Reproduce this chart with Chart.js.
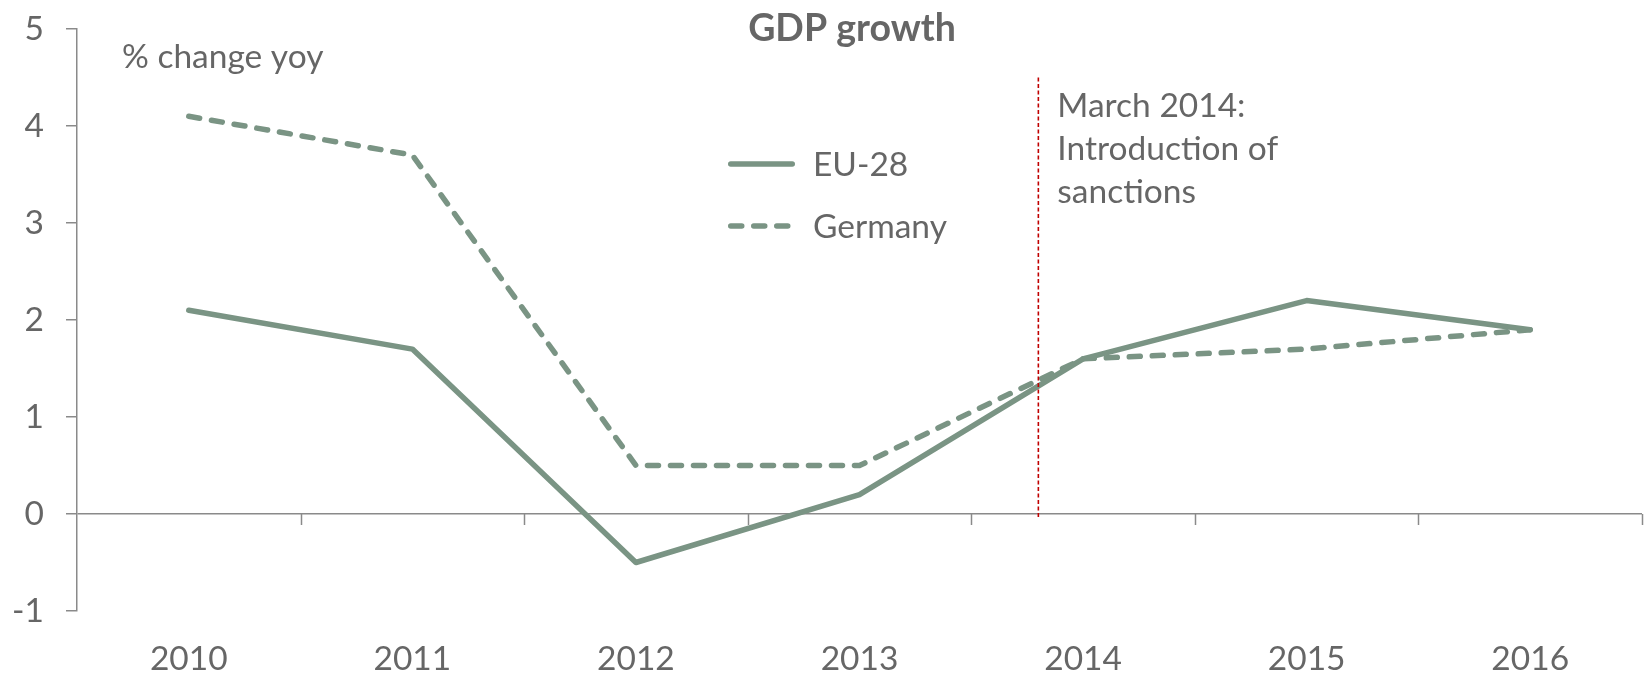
<!DOCTYPE html>
<html>
<head>
<meta charset="utf-8">
<title>GDP growth</title>
<script src="https://cdn.jsdelivr.net/npm/chart.js@4/dist/chart.umd.min.js"></script>
<style>
  html, body { margin: 0; padding: 0; background: #ffffff; }
  #wrap { width: 1648px; height: 673px; }
</style>
</head>
<body>
<div id="wrap"><canvas id="c" width="1648" height="673"></canvas></div>
<script>
// ---- data ----
const years = ['2010', '2011', '2012', '2013', '2014', '2015', '2016'];
const eu28 = [2.1, 1.7, -0.5, 0.2, 1.6, 2.2, 1.9];
const germany = [4.1, 3.7, 0.5, 0.5, 1.6, 1.7, 1.9];
const yMin = -1;
const yMax = 5;
const yStep = 1;
const seriesNames = ['EU-28', 'Germany'];
const chartTitle = 'GDP growth';
const unitNote = '% change yoy';
// March 2014 sits between the 2013 and 2014 categories
const sanctionsAt = 3.8;
const sanctionsSpan = [-0.04, 4.5];
const sanctionsText = ['March 2014:', 'Introduction of', 'sanctions'];

// ---- styles ----
const FONT = 'Lato, "Open Sans", sans-serif';
const FS = 33.5;
const TITLE_FS = 37.5;
const TEXT = '#666666';
const AXIS = '#8a8a8a';
const LINE = '#7a9484';
const RED = '#c00000';
const germanyDash = [11, 12];

const overlay = {
  id: 'overlay',
  beforeDatasetsDraw(chart) {
    const { ctx, scales: { x, y } } = chart;
    const y0 = y.getPixelForValue(0);
    ctx.save();
    ctx.strokeStyle = AXIS;
    ctx.lineWidth = 1.5;
    // category boundary ticks hanging below the zero line
    for (let i = 1; i <= years.length; i++) {
      const px = Math.round(x.getPixelForValue(i - 0.5)) + 0.5;
      ctx.beginPath();
      ctx.moveTo(px, y0);
      ctx.lineTo(px, y0 + 11);
      ctx.stroke();
    }
    ctx.restore();
  },
  afterDatasetsDraw(chart) {
    const { ctx, chartArea, scales: { x, y } } = chart;
    ctx.save();

    // sanctions marker
    const sx = x.getPixelForValue(sanctionsAt);
    ctx.strokeStyle = RED;
    ctx.lineWidth = 1.6;
    ctx.setLineDash([4, 2.5]);
    ctx.beginPath();
    ctx.moveTo(sx, y.getPixelForValue(sanctionsSpan[1]));
    ctx.lineTo(sx, y.getPixelForValue(sanctionsSpan[0]));
    ctx.stroke();
    ctx.setLineDash([]);

    ctx.fillStyle = TEXT;
    ctx.textBaseline = 'alphabetic';
    ctx.font = `${FS}px ${FONT}`;
    ctx.textAlign = 'left';
    sanctionsText.forEach((t, i) => ctx.fillText(t, sx + 19, 117 + i * 43));

    // unit note
    ctx.fillText(unitNote, chartArea.left + 45, 68);

    // title
    ctx.font = `bold ${TITLE_FS}px ${FONT}`;
    ctx.textAlign = 'center';
    ctx.fillText(chartTitle, 852, 41);

    // legend
    ctx.font = `${FS}px ${FONT}`;
    ctx.textAlign = 'left';
    const lx0 = 728, lx1 = 795, tx = 813;
    const rows = [164, 226];
    chart.data.datasets.forEach((ds, i) => {
      ctx.strokeStyle = ds.borderColor;
      ctx.lineWidth = ds.borderWidth;
      ctx.lineCap = 'round';
      ctx.setLineDash(ds.borderDash || []);
      ctx.beginPath();
      ctx.moveTo(lx0 + ds.borderWidth / 2, rows[i]);
      ctx.lineTo(lx1 - ds.borderWidth / 2, rows[i]);
      ctx.stroke();
      ctx.setLineDash([]);
      ctx.textBaseline = 'middle';
      ctx.fillText(ds.label, tx, rows[i] + 1);
    });
    ctx.restore();
  }
};

function draw() {
  new Chart(document.getElementById('c'), {
    type: 'line',
    data: {
      labels: years,
      datasets: [
        {
          label: seriesNames[0],
          data: eu28,
          borderColor: LINE,
          borderWidth: 5.5,
          borderCapStyle: 'round',
          borderJoinStyle: 'round',
          pointRadius: 0,
          tension: 0,
          fill: false
        },
        {
          label: seriesNames[1],
          data: germany,
          borderColor: LINE,
          borderWidth: 5.5,
          borderDash: germanyDash,
          borderCapStyle: 'round',
          borderJoinStyle: 'round',
          pointRadius: 0,
          tension: 0,
          fill: false
        }
      ]
    },
    options: {
      responsive: false,
      animation: false,
      events: [],
      layout: { padding: { top: 29, right: 6, left: 0, bottom: 0 } },
      plugins: {
        legend: { display: false },
        title: { display: false },
        tooltip: { enabled: false }
      },
      scales: {
        x: {
          type: 'category',
          offset: true,
          grid: { display: false },
          border: { display: false },
          ticks: {
            color: TEXT,
            font: { family: FONT, size: FS },
            padding: 20,
            maxRotation: 0,
            autoSkip: false
          },
          afterFit(s) { s.height = 62; }
        },
        y: {
          type: 'linear',
          min: yMin,
          max: yMax,
          ticks: {
            stepSize: yStep,
            color: TEXT,
            font: { family: FONT, size: FS },
            padding: 22
          },
          grid: {
            drawOnChartArea: true,
            color: (c) => (c.tick && c.tick.value === 0 ? AXIS : 'rgba(0,0,0,0)'),
            tickColor: AXIS,
            tickLength: 11,
            lineWidth: 1.5
          },
          border: { display: true, color: AXIS, width: 1.5 },
          afterFit(s) {
            s.width = 77;
            s.paddingTop = 0;
            s.paddingBottom = 0;
          }
        }
      }
    },
    plugins: [overlay]
  });
}

if (document.fonts && document.fonts.load) {
  Promise.all([
    document.fonts.load(`${FS}px Lato`),
    document.fonts.load(`bold ${TITLE_FS}px Lato`)
  ]).then(draw, draw);
} else {
  draw();
}
</script>
</body>
</html>
